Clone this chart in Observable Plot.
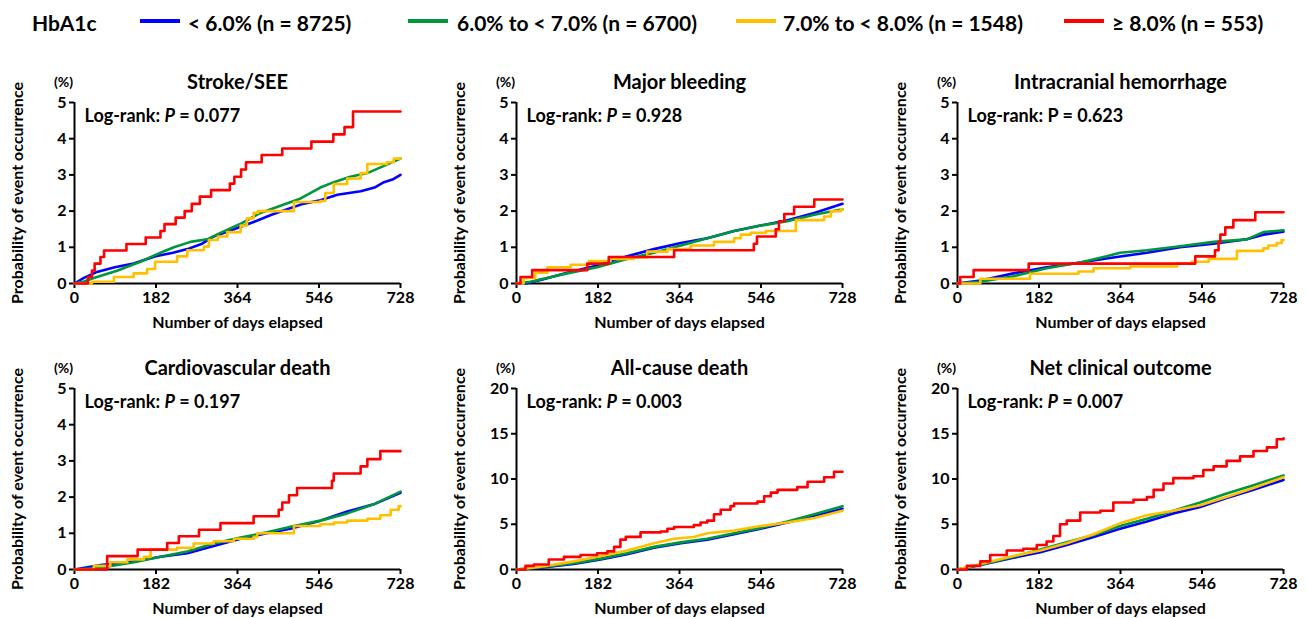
<!DOCTYPE html>
<html>
<head>
<meta charset="utf-8">
<script src="https://cdn.jsdelivr.net/npm/d3@7"></script>
<script src="https://cdn.jsdelivr.net/npm/@observablehq/plot@0.6"></script>
<style>
  html, body { margin: 0; padding: 0; background: #fff; overflow: hidden; }
  #root { position: relative; width: 1307px; height: 618px; font-family: Lato, "Open Sans", sans-serif; font-weight: 700; color: #000; }
  .lg-text { position: absolute; top: 22px; transform: translateY(-50%); font-size: 21px; white-space: nowrap; line-height: 1; }
  .lg-line { position: absolute; top: 19px; height: 4px; width: 40px; }
  .panel { position: absolute; }
</style>
</head>
<body>
<div id="root"></div>
<script>
// ---------- data ----------
const groups = ["< 6.0% (n = 8725)", "6.0% to < 7.0% (n = 6700)", "7.0% to < 8.0% (n = 1548)", "\u2265 8.0% (n = 553)"];
const groupColors = ["#0000ff", "#00963c", "#ffc000", "#ff0000"];
const legendTitle = "HbA1c";
const xTicks = [0, 182, 364, 546, 728];
const yTicksLow = [0, 1, 2, 3, 4, 5];
const yTicksHigh = [0, 5, 10, 15, 20];
const panelTitles = ["Stroke/SEE", "Major bleeding", "Intracranial hemorrhage", "Cardiovascular death", "All-cause death", "Net clinical outcome"];
const pValues = ["0.077", "0.928", "0.623", "0.197", "0.003", "0.007"];

// [day, cumulative %]
const strokeBlue = [[0,0],[20,0.15],[50,0.32],[90,0.45],[132,0.55],[181,0.75],[220,0.85],[252,0.95],[285,1.1],[311,1.3],[356,1.5],[400,1.7],[440,1.9],[475,2.05],[510,2.2],[549,2.3],[587,2.45],[639,2.55],[670,2.65],[691,2.8],[710,2.87],[728,3.0]];
const strokeGreen = [[0,0],[20,0.05],[43,0.15],[95,0.35],[147,0.6],[192,0.85],[222,1.0],[259,1.15],[296,1.22],[326,1.4],[371,1.65],[415,1.95],[460,2.15],[505,2.35],[549,2.65],[579,2.8],[616,2.95],[654,3.05],[691,3.25],[728,3.45]];
const strokeYellow = [[0,0],[39,0.05],[88,0.18],[132,0.28],[162,0.4],[180,0.6],[229,0.75],[252,0.92],[289,1.02],[300,1.2],[320,1.3],[341,1.42],[371,1.6],[385,1.8],[400,1.95],[410,2.0],[490,2.25],[549,2.28],[560,2.5],[579,2.75],[609,2.9],[639,3.05],[654,3.3],[698,3.35],[713,3.45],[728,3.45]];
const strokeRed = [[0,0],[30,0.18],[39,0.36],[45,0.55],[58,0.73],[66,0.91],[116,1.09],[159,1.27],[192,1.45],[201,1.64],[226,1.82],[246,2.0],[262,2.2],[280,2.4],[305,2.58],[347,2.76],[357,2.95],[372,3.15],[383,3.35],[418,3.55],[464,3.73],[529,3.92],[578,4.12],[603,4.32],[622,4.75],[728,4.75]];

const bleedBlue = [[0,0],[20,0],[54,0.1],[113,0.3],[180,0.5],[247,0.75],[307,0.95],[367,1.12],[426,1.25],[486,1.45],[545,1.6],[605,1.75],[665,1.95],[728,2.2]];
const bleedGreen = [[0,0],[31,0.05],[113,0.28],[180,0.45],[247,0.68],[307,0.85],[367,1.05],[426,1.25],[486,1.45],[545,1.6],[605,1.72],[665,1.9],[728,2.05]];
const bleedYellow = [[0,0],[16,0.15],[42,0.3],[69,0.45],[121,0.52],[162,0.62],[210,0.68],[262,0.72],[292,0.88],[337,0.95],[389,1.05],[441,1.15],[486,1.25],[501,1.35],[523,1.4],[557,1.45],[624,1.75],[687,1.85],[702,2.0],[724,2.05],[728,2.05]];
const bleedRed = [[0,0],[9,0.18],[35,0.37],[158,0.55],[206,0.73],[352,0.92],[530,1.1],[537,1.3],[579,1.5],[586,1.72],[598,1.92],[620,2.12],[665,2.32],[728,2.32]];

const ichBlue = [[0,0],[51,0.08],[125,0.28],[199,0.45],[274,0.58],[348,0.72],[423,0.85],[497,1.0],[572,1.1],[646,1.22],[683,1.35],[728,1.43]];
const ichGreen = [[0,0],[51,0.05],[125,0.2],[199,0.42],[274,0.58],[333,0.75],[363,0.85],[423,0.92],[497,1.03],[572,1.15],[646,1.22],[683,1.42],[728,1.47]];
const ichYellow = [[0,0],[51,0.13],[162,0.27],[270,0.33],[304,0.42],[386,0.47],[490,0.55],[523,0.6],[561,0.68],[624,0.9],[683,0.97],[694,1.05],[713,1.12],[724,1.2],[728,1.2]];
const ichRed = [[0,0],[6,0.18],[36,0.37],[159,0.55],[531,0.75],[575,0.92],[583,1.15],[587,1.35],[598,1.55],[616,1.75],[665,1.97],[728,1.97]];

const cvBlue = [[0,0],[58,0.12],[133,0.22],[192,0.35],[252,0.45],[311,0.65],[371,0.85],[430,1.0],[490,1.15],[549,1.35],[609,1.6],[668,1.8],[728,2.12]];
const cvGreen = [[0,0],[58,0.05],[133,0.2],[192,0.35],[252,0.5],[311,0.72],[371,0.88],[430,1.03],[490,1.2],[549,1.35],[609,1.55],[668,1.8],[728,2.15]];
const cvYellow = [[0,0],[43,0.1],[80,0.2],[118,0.28],[155,0.35],[170,0.55],[229,0.6],[266,0.72],[311,0.78],[356,0.85],[400,0.9],[408,1.0],[490,1.2],[549,1.25],[579,1.3],[609,1.35],[654,1.4],[683,1.5],[706,1.65],[724,1.75],[728,1.75]];
const cvRed = [[0,0],[73,0.37],[141,0.55],[207,0.73],[233,0.92],[278,1.1],[326,1.28],[400,1.47],[456,1.65],[464,1.85],[479,2.05],[497,2.25],[575,2.45],[579,2.65],[639,2.85],[654,3.05],[683,3.27],[728,3.27]];

const acBlue = [[0,0],[54,0.2],[128,0.6],[188,1.1],[247,1.7],[307,2.4],[367,2.9],[426,3.3],[486,3.9],[545,4.5],[605,5.2],[665,5.9],[728,6.7]];
const acGreen = [[0,0],[54,0.25],[128,0.7],[188,1.2],[247,1.8],[307,2.5],[367,3.0],[426,3.4],[486,4.0],[545,4.6],[605,5.3],[665,6.1],[728,7.0]];
const acYellow = [[0,0],[54,0.3],[128,0.9],[188,1.5],[247,2.1],[307,2.9],[352,3.4],[396,3.6],[426,4.0],[486,4.3],[545,4.8],[605,5.2],[665,5.7],[728,6.5]];
const acRed = [[0,0],[20,0.4],[39,0.55],[72,1.1],[106,1.4],[143,1.6],[180,1.8],[203,2.0],[218,2.5],[232,3.3],[244,3.6],[277,4.1],[322,4.2],[337,4.5],[352,4.7],[396,4.9],[411,5.2],[426,5.4],[441,6.1],[456,6.6],[478,7.0],[486,7.3],[538,7.5],[553,8.1],[568,8.5],[583,8.8],[627,9.1],[650,9.7],[687,10.2],[709,10.8],[728,10.8]];

const netBlue = [[0,0],[51,0.5],[125,1.3],[185,1.9],[244,2.7],[304,3.6],[363,4.5],[423,5.3],[482,6.2],[542,6.9],[601,7.9],[661,8.8],[728,9.9]];
const netGreen = [[0,0],[51,0.5],[125,1.4],[185,2.2],[244,3.0],[304,3.8],[363,4.8],[423,5.6],[482,6.5],[542,7.4],[601,8.4],[661,9.3],[728,10.4]];
const netYellow = [[0,0],[51,0.6],[125,1.5],[185,2.1],[244,2.9],[304,3.9],[363,5.1],[423,6.0],[482,6.5],[542,7.1],[601,8.0],[661,9.0],[728,10.2]];
const netRed = [[0,0],[21,0.4],[51,0.9],[73,1.6],[110,2.1],[147,2.3],[177,2.7],[199,3.1],[214,3.7],[229,5.0],[244,5.4],[274,6.3],[319,6.5],[348,7.4],[393,7.7],[423,8.0],[438,8.8],[460,9.5],[482,10.1],[527,10.3],[549,11.0],[572,11.4],[601,12.0],[631,12.5],[661,13.1],[691,13.5],[713,14.4],[728,14.5]];

// ---------- layout ----------
const root = document.getElementById("root");

// legend
function addDiv(cls, left, text, color) {
  const d = document.createElement("div");
  d.className = cls;
  d.style.left = left + "px";
  if (text) d.textContent = text;
  if (color) d.style.background = color;
  root.appendChild(d);
}
addDiv("lg-text", 32, legendTitle);
const lineLefts = [140, 408, 736, 1064];
const textLefts = [188, 457, 783, 1112];
groups.forEach((g, i) => {
  addDiv("lg-line", lineLefts[i], null, groupColors[i]);
  addDiv("lg-text", textLefts[i], g);
});

const panelSeries = [
  [strokeBlue, strokeGreen, strokeYellow, strokeRed],
  [bleedBlue, bleedGreen, bleedYellow, bleedRed],
  [ichBlue, ichGreen, ichYellow, ichRed],
  [cvBlue, cvGreen, cvYellow, cvRed],
  [acBlue, acGreen, acYellow, acRed],
  [netBlue, netGreen, netYellow, netRed]
];
// which series are drawn as staircases (Kaplan-Meier style)
const stepped = [
  [false, false, true, true],
  [false, false, true, true],
  [false, false, true, true],
  [false, false, true, true],
  [false, false, false, true],
  [false, false, false, true]
];
const yTickSets = [yTicksLow, yTicksLow, yTicksLow, yTicksLow, yTicksHigh, yTicksHigh];
const italicP = [true, true, false, true, true, true];

const lefts = [0, 442, 883];
const tops = [40, 326];
const marginRights = [36, 36, 22];

panelTitles.forEach((title, i) => {
  const col = i % 3, row = Math.floor(i / 3);
  const yt = yTickSets[i];
  const ymax = yt[yt.length - 1];
  const width = 74 + 326 + marginRights[col];
  const lines = panelSeries[i].map((data, k) => Plot.line(data, {
    x: d => d[0], y: d => d[1],
    stroke: groupColors[k], strokeWidth: 2.6,
    curve: stepped[i][k] ? "step-after" : "linear"
  }));
  const svg = Plot.plot({
    width, height: 286,
    marginTop: 62, marginBottom: 43, marginLeft: 74, marginRight: marginRights[col],
    style: { fontFamily: "Lato, 'Open Sans', sans-serif", fontSize: "16px", fontWeight: "700", color: "#000", background: "transparent", overflow: "visible" },
    x: { domain: [0, 728] },
    y: { domain: [0, ymax] },
    marks: [
      Plot.axisX(xTicks, { tickSize: 5, tickPadding: 3, strokeWidth: 2, fontSize: 16, fontWeight: "bold", label: null }),
      Plot.axisY(yt, { tickSize: 5, tickPadding: 3, strokeWidth: 2, fontSize: 16, fontWeight: "bold", label: null }),
      Plot.ruleX([0], { y1: 0, y2: ymax, strokeWidth: 2, stroke: "#000" }),
      Plot.ruleY([0], { x1: 0, x2: 728, strokeWidth: 2, stroke: "#000" }),
      ...lines,
      Plot.text([title], { text: d => d, frameAnchor: "top", dy: -20, lineAnchor: "middle", fontSize: 20, fontWeight: "bold", fill: "#000" }),
      Plot.text(["(%)"], { text: d => d, frameAnchor: "top-left", dx: -11, dy: -20, textAnchor: "middle", lineAnchor: "middle", fontSize: 14, fontWeight: "bold", fill: "#000" }),
      Plot.text(["Log-rank: P = " + pValues[i]], { text: d => d, frameAnchor: "top-left", dx: 10, dy: 14, textAnchor: "start", lineAnchor: "middle", fontSize: 18, fontWeight: "bold", fill: "#000" }),
      Plot.text(["Probability of event occurrence"], { text: d => d, frameAnchor: "left", dx: -57, rotate: -90, textAnchor: "middle", lineAnchor: "middle", fontSize: 16, fontWeight: "bold", fill: "#000" }),
      Plot.text(["Number of days elapsed"], { text: d => d, frameAnchor: "bottom", dy: 39, textAnchor: "middle", lineAnchor: "middle", fontSize: 16, fontWeight: "bold", fill: "#000" })
    ]
  });
  // italic P in the log-rank annotation
  d3.select(svg).selectAll("text").filter(function () { return this.textContent.startsWith("Log-rank"); }).each(function () {
    const m = this.textContent.match(/^(Log-rank: )P( = .*)$/);
    if (!m) return;
    const t = d3.select(this);
    t.text(null);
    t.append("tspan").text(m[1]);
    t.append("tspan").attr("font-style", italicP[i] ? "italic" : null).text("P");
    t.append("tspan").text(m[2]);
  });
  const wrap = document.createElement("div");
  wrap.className = "panel";
  wrap.style.left = lefts[col] + "px";
  wrap.style.top = tops[row] + "px";
  wrap.appendChild(svg);
  root.appendChild(wrap);
});
</script>
</body>
</html>
